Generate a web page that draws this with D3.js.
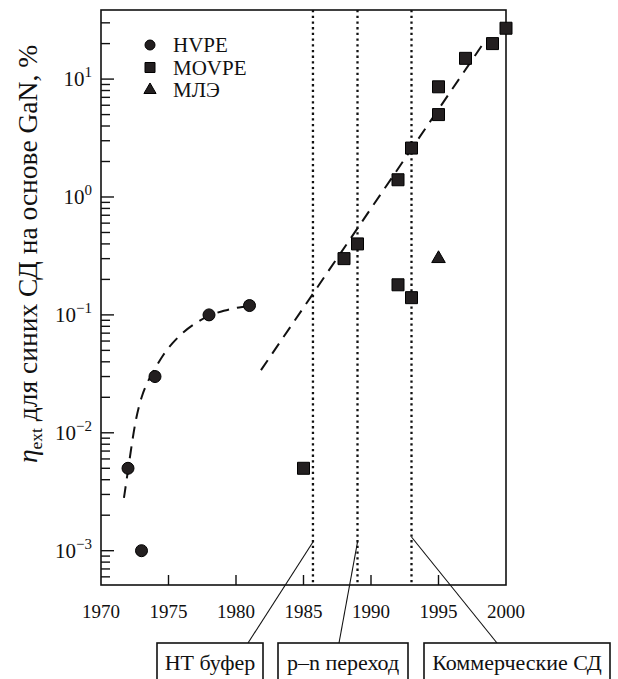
<!DOCTYPE html>
<html>
<head>
<meta charset="utf-8">
<script src="https://cdn.jsdelivr.net/npm/d3@7"></script>
<style>
  body { margin: 0; background: #fff; }
  svg { display: block; }
  svg text { font-family: "Liberation Serif", "DejaVu Serif", "Times New Roman", serif; fill: #111; }
</style>
</head>
<body>
<svg id="chart" width="618" height="679"></svg>
<script>
// Measured external quantum efficiency (%) by growth technique
const hvpeYears  = [1972, 1973, 1974, 1978, 1981];
const hvpeValues = [0.005, 0.001, 0.03, 0.1, 0.12];

const movpeYears  = [1985, 1988, 1989, 1992, 1993, 1992, 1993, 1995, 1995, 1997, 1999, 2000];
const movpeValues = [0.005, 0.3, 0.4, 0.18, 0.14, 1.4, 2.6, 5, 8.6, 15, 20, 27];

const mbeYears  = [1995];
const mbeValues = [0.3];

// Guide curves (dashed)
const hvpeTrendYears  = [1971.7, 1972.0, 1972.3, 1972.6, 1973.0, 1973.5, 1974.0, 1974.6, 1975.3, 1976.1, 1977.1, 1978.0, 1979.1, 1980.2, 1981.5];
const hvpeTrendValues = [0.0028, 0.0048, 0.0083, 0.0135, 0.0205, 0.028, 0.035, 0.046, 0.058, 0.072, 0.087, 0.099, 0.109, 0.116, 0.121];
const movpeTrendYears  = [1981.85, 1998.4];
const movpeTrendValues = [0.034, 20.7];

// Technology milestones
const milestoneYears  = [1985.7, 1989, 1993];
const milestoneLabels = ["НТ буфер", "p–n переход", "Коммерческие СД"];

const xTickValues = [1970, 1975, 1980, 1985, 1990, 1995, 2000];
const yDecades    = [-3, -2, -1, 0, 1];

const legendLabels = ["HVPE", "MOVPE", "МЛЭ"];

const svg = d3.select("#chart");
const plotL = 101, plotR = 506, plotT = 10, plotB = 585;

const x = d3.scaleLinear().domain([1970, 2000]).range([plotL, plotR]);
const y = d3.scaleLog().domain([Math.pow(10, -3.291), Math.pow(10, 1.586)]).range([plotB, plotT]);

const ink = "#111";
const markFill = "#231f20";

// Milestone dotted verticals
svg.append("g").selectAll("line").data(milestoneYears).join("line")
  .attr("x1", d => x(d)).attr("x2", d => x(d))
  .attr("y1", plotT).attr("y2", plotB)
  .attr("stroke", ink).attr("stroke-width", 2.3)
  .attr("stroke-dasharray", "2.3,3.4");

// Frame
svg.append("rect")
  .attr("x", plotL).attr("y", plotT)
  .attr("width", plotR - plotL).attr("height", plotB - plotT)
  .attr("fill", "none").attr("stroke", ink).attr("stroke-width", 1.6);

// Y axis ticks (inward, log minor ticks)
const yTickVals = y.ticks().filter(v => v >= y.domain()[0] && v <= y.domain()[1]);
const isMajor = v => Math.abs(Math.log10(v) - Math.round(Math.log10(v))) < 1e-9;
svg.append("g").selectAll("line").data(yTickVals).join("line")
  .attr("x1", plotL).attr("x2", d => plotL + (isMajor(d) ? 13 : 9))
  .attr("y1", d => y(d)).attr("y2", d => y(d))
  .attr("stroke", ink).attr("stroke-width", 1.4);

// Y tick labels: 10^k
const yLab = svg.append("g").selectAll("text").data(yDecades).join("text")
  .attr("x", 92).attr("y", d => y(Math.pow(10, d)) + 7)
  .attr("text-anchor", "end").attr("font-size", 21);
yLab.append("tspan").text("10");
yLab.append("tspan").attr("dy", -9).attr("font-size", 15)
  .text(d => d < 0 ? "\u2212" + Math.abs(d) : String(d));

// X axis ticks (inward) and labels
svg.append("g").selectAll("line").data(xTickValues.filter(v => v > 1970 && v < 2000)).join("line")
  .attr("x1", d => x(d)).attr("x2", d => x(d))
  .attr("y1", plotB).attr("y2", plotB - 10)
  .attr("stroke", ink).attr("stroke-width", 1.4);
svg.append("g").selectAll("text").data(xTickValues).join("text")
  .attr("x", d => x(d)).attr("y", 618)
  .attr("text-anchor", "middle").attr("font-size", 19)
  .text(d => d);

// Y axis title
const yt = svg.append("text")
  .attr("transform", "translate(37,254) rotate(-90)")
  .attr("text-anchor", "middle").attr("font-size", 27.5);
yt.append("tspan").attr("font-style", "italic").text("η");
yt.append("tspan").attr("font-size", 17.5).attr("dy", 5).text("ext");
yt.append("tspan").attr("dy", -5).text(" для синих СД на основе GaN, %");

// Dashed guide curves
svg.append("path")
  .datum(d3.zip(hvpeTrendYears, hvpeTrendValues))
  .attr("d", d3.line().x(d => x(d[0])).y(d => y(d[1])).curve(d3.curveBasis))
  .attr("fill", "none").attr("stroke", ink).attr("stroke-width", 2)
  .attr("stroke-dasharray", "12,8");
svg.append("path")
  .datum(d3.zip(movpeTrendYears, movpeTrendValues))
  .attr("d", d3.line().x(d => x(d[0])).y(d => y(d[1])))
  .attr("fill", "none").attr("stroke", ink).attr("stroke-width", 2)
  .attr("stroke-dasharray", "12,8");

// Markers
const sym = (type, size) => d3.symbol().type(type).size(size)();
function drawMarks(xs, vs, type, size) {
  svg.append("g").selectAll("path").data(d3.zip(xs, vs)).join("path")
    .attr("transform", d => `translate(${x(d[0])},${y(d[1])})`)
    .attr("d", sym(type, size))
    .attr("fill", markFill).attr("stroke", "#000").attr("stroke-width", 1);
}
drawMarks(hvpeYears, hvpeValues, d3.symbolCircle, Math.PI * 36);
drawMarks(movpeYears, movpeValues, d3.symbolSquare, 144);
drawMarks(mbeYears, mbeValues, d3.symbolTriangle, 80);

// Legend
const legendTypes = [d3.symbolCircle, d3.symbolSquare, d3.symbolTriangle];
const legendSizes = [Math.PI * 25, 100, 64];
const lg = svg.append("g").selectAll("g").data(legendLabels).join("g")
  .attr("transform", (d, i) => `translate(150,${45 + i * 22.5})`);
lg.append("path")
  .attr("d", (d, i) => sym(legendTypes[i], legendSizes[i]))
  .attr("fill", markFill).attr("stroke", "#000").attr("stroke-width", 1);
lg.append("text").attr("x", 23).attr("y", 7).attr("font-size", 21).text(d => d);

// Milestone boxes with leader lines
const boxes = [
  { x0: 157, x1: 263, foot: 248, head: 542 },
  { x0: 278, x1: 408, foot: 339, head: 542 },
  { x0: 424, x1: 610, foot: 497, head: 537 }
];
const boxTop = 643;
boxes.forEach((b, i) => {
  svg.append("line")
    .attr("x1", x(milestoneYears[i])).attr("y1", b.head)
    .attr("x2", b.foot).attr("y2", boxTop)
    .attr("stroke", ink).attr("stroke-width", 1.1);
  svg.append("rect")
    .attr("x", b.x0).attr("y", boxTop)
    .attr("width", b.x1 - b.x0).attr("height", 60)
    .attr("fill", "#fff").attr("stroke", ink).attr("stroke-width", 1.6);
  svg.append("text")
    .attr("x", (b.x0 + b.x1) / 2).attr("y", 670)
    .attr("text-anchor", "middle").attr("font-size", 22)
    .text(milestoneLabels[i]);
});
</script>
</body>
</html>
